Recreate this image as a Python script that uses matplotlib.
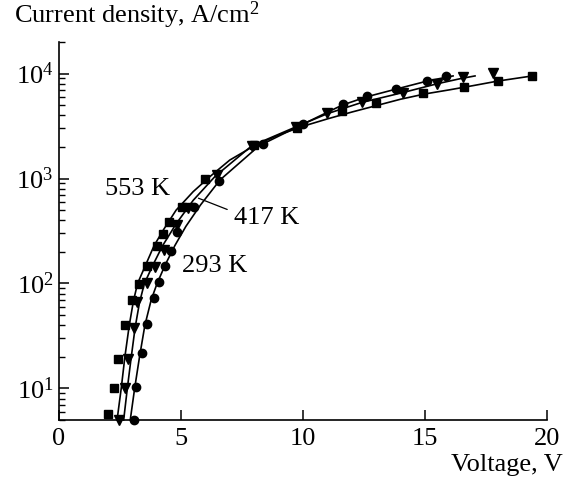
import matplotlib
matplotlib.use("Agg")
import matplotlib.pyplot as plt
from matplotlib.ticker import LogLocator, FixedLocator, NullFormatter, LogFormatterMathtext

plt.rcParams['font.family'] = ['Liberation Serif', 'DejaVu Serif']
plt.rcParams['mathtext.fontset'] = 'custom'
plt.rcParams['mathtext.rm'] = 'Liberation Serif'
plt.rcParams['mathtext.it'] = 'Liberation Serif:italic'

# ---- data ----
# 553 K (squares)
v553 = [2.0, 2.25, 2.43, 2.7, 2.98, 3.29, 3.62, 4.0, 4.27, 4.52, 5.03, 6.0, 8.0, 9.75, 11.6, 13.0, 14.9, 16.6, 18.0, 19.4]
j553 = [5.7, 10, 19, 40, 69, 99, 148, 230, 297, 384, 533, 980, 2100, 3000, 4380, 5260, 6550, 7510, 8580, 9510]
# 417 K (triangles)
v417 = [2.46, 2.7, 2.84, 3.08, 3.18, 3.6, 3.93, 4.3, 4.82, 5.3, 6.46, 7.9, 9.7, 11.0, 12.4, 14.1, 15.48, 16.55, 17.77]
j417 = [5, 10, 19, 38, 66, 100, 143, 210, 357, 520, 1070, 2050, 3100, 4200, 5330, 6550, 7980, 9230, 10230]
# 293 K (circles)
v293 = [3.07, 3.17, 3.41, 3.62, 3.91, 4.11, 4.34, 4.59, 4.82, 5.55, 6.57, 8.37, 10.0, 11.63, 12.61, 13.8, 15.07, 15.86]
j293 = [5, 10.4, 21.7, 41, 73, 103, 148, 206, 308, 533, 957, 2140, 3300, 5140, 6170, 7140, 8580, 9430]

# fitted lines
lv553 = [2.38, 2.55, 2.7, 2.88, 3.05, 3.22, 3.55, 3.9, 4.3, 4.8, 5.5, 6.2, 7.0, 8.0, 9.0, 10.0, 11.0, 12.0, 13.0, 14.0, 15.0, 16.0, 17.0, 18.0, 19.4]
lj553 = [5, 10, 20, 40, 68, 100, 150, 230, 330, 500, 750, 1050, 1500, 2050, 2600, 3150, 3700, 4300, 4950, 5700, 6400, 7000, 7700, 8500, 9500]
lv417 = [2.65, 2.8, 2.95, 3.12, 3.3, 3.5, 3.85, 4.25, 4.8, 5.5, 6.4, 7.9, 9.7, 11.0, 12.4, 14.1, 15.5, 16.5, 17.05]
lj417 = [5, 10, 19, 38, 66, 100, 150, 230, 370, 620, 1050, 2050, 3100, 4150, 5300, 6600, 8000, 9000, 9500]
lv293 = [2.92, 3.1, 3.3, 3.52, 3.78, 4.02, 4.35, 4.75, 5.2, 5.8, 6.6, 8.2, 10.0, 11.6, 12.6, 13.8, 15.1, 16.15]
lj293 = [5, 10, 20, 40, 70, 100, 150, 230, 350, 560, 970, 2050, 3300, 5000, 6000, 7100, 8500, 9500]

labels = ["553 K", "417 K", "293 K"]
x_ticks = [0, 5, 10, 15, 20]

fig = plt.figure(figsize=(5.67, 4.82), dpi=100)
ax = fig.add_axes([59/567, 1-420/482, (547-59)/567, (420-42)/482])
ax.set_yscale('log')
ax.set_xlim(0, 20)
ax.set_ylim(5, 2e4)

lw = 1.2
ax.plot(lv553, lj553, color='black', lw=lw, clip_on=False)
ax.plot(lv417, lj417, color='black', lw=lw, clip_on=False)
ax.plot(lv293, lj293, color='black', lw=lw, clip_on=False)
ax.plot(v553, j553, 's', color='black', ms=6, clip_on=False)
ax.plot(v417, j417, 'v', color='black', ms=7, clip_on=False)
ax.plot(v293, j293, 'o', color='black', ms=6, clip_on=False)

fs = 19
ax.text(3.2, 800, labels[0], fontsize=fs, ha='center', va='center')
ax.text(8.5, 420, labels[1], fontsize=fs, ha='center', va='center')
ax.annotate('', xy=(5.61, 664), xytext=(7.0, 496),
            arrowprops=dict(arrowstyle='-', color='black', lw=0.9))
ax.text(6.4, 148, labels[2], fontsize=fs, ha='center', va='center')

for s in ['top', 'right']:
    ax.spines[s].set_visible(False)
for s in ['left', 'bottom']:
    ax.spines[s].set_linewidth(1.2)

ax.xaxis.set_major_locator(FixedLocator(x_ticks))
ax.set_xticklabels([str(t) for t in x_ticks])
ax.yaxis.set_major_locator(LogLocator(base=10, numticks=10))
ax.yaxis.set_minor_locator(LogLocator(base=10, subs=range(2, 10), numticks=20))
ax.yaxis.set_major_formatter(LogFormatterMathtext())
ax.yaxis.set_minor_formatter(NullFormatter())
ax.tick_params(axis='both', which='major', direction='in', length=7, width=1.1, labelsize=fs)
ax.tick_params(axis='y', which='minor', direction='in', length=4, width=1.0)
ax.tick_params(axis='x', which='major', pad=6)
ax.tick_params(axis='y', which='major', pad=4)

fig.text(14/567, 1-15/482, "Current density, A/cm$^2$", fontsize=fs, ha='left', va='center')
fig.text(563/567, 1-465/482, "Voltage, V", fontsize=fs, ha='right', va='center')

fig.savefig("out.png", dpi=100)
